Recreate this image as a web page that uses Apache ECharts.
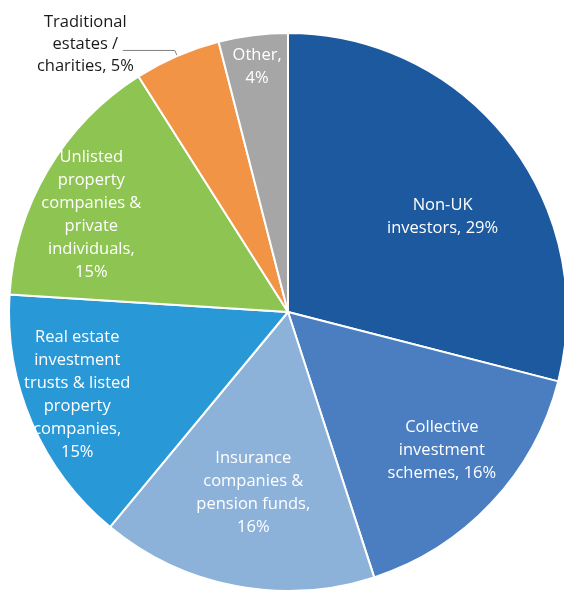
<!DOCTYPE html>
<html>
<head>
<meta charset="utf-8">
<script src="https://cdn.jsdelivr.net/npm/echarts@6/dist/echarts.min.js"></script>
<style>
  html, body { margin: 0; padding: 0; background: #fff; }
  #chart { width: 564px; height: 591px; }
</style>
</head>
<body>
<div id="chart"></div>
<script>
// investor groups, clockwise from 12 o'clock
const categories = [
  'Non-UK investors',
  'Collective investment schemes',
  'Insurance companies & pension funds',
  'Real estate investment trusts & listed property companies',
  'Unlisted property companies & private individuals',
  'Traditional estates / charities',
  'Other'
];
const shares = [29, 16, 16, 15, 15, 5, 4];
// label text as broken in the original
const labelLines = [
  ['Non-UK', 'investors, 29%'],
  ['Collective', 'investment', 'schemes, 16%'],
  ['Insurance', 'companies &', 'pension funds,', '16%'],
  ['Real estate', 'investment', 'trusts & listed', 'property', 'companies,', '15%'],
  ['Unlisted', 'property', 'companies &', 'private', 'individuals,', '15%'],
  ['Traditional', 'estates /', 'charities, 5%'],
  ['Other,', '4%']
];
const colors = ['#1D599F', '#4A7EC1', '#8CB2DA', '#2998D6', '#8EC552', '#F29446', '#A6A6A6'];
// nudges from the default inside spot
const labelOffsets = [[42, -8], [50, 41], [-8, 41], [-80, 26], [-74, -25], [0, 0], [-13, -104]];

const chart = echarts.init(document.getElementById('chart'));

const pieData = categories.map((name, i) => {
  const item = {
    name: name,
    value: shares[i],
    itemStyle: { color: colors[i] },
    label: {
      formatter: labelLines[i].map(t => '{c|' + t + '}').join('\n'),
      offset: labelOffsets[i]
    }
  };
  if (i === 5) {
    // the one label sitting outside with a leader line
    item.label = {
      position: 'outside',
      formatter: labelLines[i].map(t => '{d|' + t + '}').join('\n'),
      distanceToLabelLine: -11,
      padding: [0, 0, 12, 0]
    };
    item.labelLine = {
      show: true,
      length: 6,
      length2: 52,
      lineStyle: { color: '#7F7F7F', width: 1 }
    };
  }
  return item;
});

chart.setOption({
  backgroundColor: '#fff',
  animation: false,
  series: [{
    type: 'pie',
    center: [288, 312],
    radius: 279,
    startAngle: 90,
    clockwise: true,
    avoidLabelOverlap: false,
    itemStyle: { borderColor: '#fff', borderWidth: 2 },
    label: {
      show: true,
      position: 'inside',
      rich: {
        c: { align: 'center', color: '#fff', fontFamily: 'Open Sans', fontSize: 16.5, lineHeight: 23 },
        d: { align: 'center', color: '#1a1a1a', fontFamily: 'Open Sans', fontSize: 16.5, lineHeight: 22 }
      }
    },
    labelLine: { show: false },
    data: pieData
  }]
});
</script>
</body>
</html>
